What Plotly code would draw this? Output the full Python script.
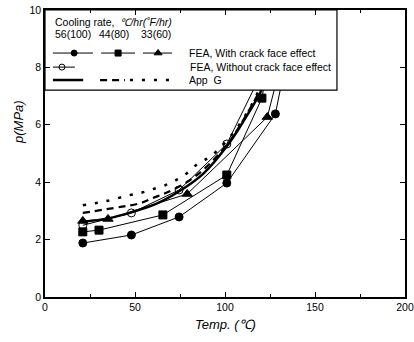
import plotly.graph_objects as go

# ---- data ----
# FEA, with crack face effect
fea56_x = [21, 48, 74.5, 101, 128, 138]
fea56_y = [1.88, 2.16, 2.79, 3.97, 6.38, 9.5]
fea44_x = [21, 30, 65.5, 101, 120.5, 128]
fea44_y = [2.27, 2.33, 2.86, 4.25, 6.93, 9.5]
fea33_x = [21, 35, 79, 123.5, 133]
fea33_y = [2.65, 2.72, 3.59, 6.27, 8.6]
# FEA, without crack face effect (56)
fea56n_x = [21, 48, 74.5, 101, 125]
fea56n_y = [2.5, 2.93, 3.73, 5.33, 8.4]
# App G
appg56_x = [21, 35, 48, 62, 75, 88, 101, 110, 121, 128]
appg56_y = [2.62, 2.74, 2.95, 3.25, 3.7, 4.3, 5.25, 6.1, 7.3, 8.6]
appg44_x = [21, 42, 53, 60, 68, 80, 90, 101, 110, 120, 127]
appg44_y = [2.93, 3.14, 3.27, 3.45, 3.65, 4.05, 4.55, 5.3, 6.15, 7.3, 8.6]
appg33_x = [21, 34, 47, 54, 60, 67, 73, 79, 85, 92, 101, 110, 118, 125]
appg33_y = [3.2, 3.34, 3.55, 3.64, 3.76, 3.9, 4.08, 4.32, 4.65, 4.9, 5.45, 6.2, 7.1, 8.4]

x_ticks = [0, 50, 100, 150, 200]
y_ticks = [0, 2, 4, 6, 8, 10]
rates = ["56(100)", "44(80)", "33(60)"]

FONT = "Liberation Sans, Arial, Helvetica, sans-serif"
BLACK = "black"

fig = go.Figure()

def fea(x, y, symbol, size, fill=BLACK):
    fig.add_trace(go.Scatter(
        x=x, y=y, mode="lines+markers",
        line=dict(color=BLACK, width=1),
        marker=dict(symbol=symbol, size=size, color=fill,
                    line=dict(color=BLACK, width=1)),
        showlegend=False, hoverinfo="skip"))

fea(fea56_x, fea56_y, "circle", 8)
fea(fea44_x, fea44_y, "square", 8)
fea(fea33_x, fea33_y, "triangle-up", 9)
fea(fea56n_x, fea56n_y, "circle-open", 8)

def appg(x, y, dash, width):
    fig.add_trace(go.Scatter(
        x=x, y=y, mode="lines", line=dict(color=BLACK, width=width, dash=dash, shape="spline"),
        showlegend=False, hoverinfo="skip"))

appg(appg56_x, appg56_y, "solid", 2.5)
appg(appg44_x, appg44_y, "7px,5px", 2.2)
appg(appg33_x, appg33_y, "3px,9px", 2.5)

# ---- custom legend box on an overlay (fractional) axis ----
bx0, bx1, by0, by1 = 0.0, 0.811, 0.721, 1.0
fig.add_trace(go.Scatter(
    x=[bx0, bx1, bx1, bx0, bx0], y=[by0, by0, by1, by1, by0],
    mode="lines", fill="toself", fillcolor="white",
    line=dict(color=BLACK, width=1.2),
    xaxis="x2", yaxis="y2", showlegend=False, hoverinfo="skip"))

def sample(x0, x1, xm, y, symbol=None, size=6, dash="solid", width=1):
    fig.add_trace(go.Scatter(
        x=[x0, x1], y=[y, y], mode="lines",
        line=dict(color=BLACK, width=width, dash=dash),
        xaxis="x2", yaxis="y2", showlegend=False, hoverinfo="skip"))
    if symbol:
        fig.add_trace(go.Scatter(
            x=[xm], y=[y], mode="markers",
            marker=dict(symbol=symbol, size=size, color=BLACK,
                        line=dict(color=BLACK, width=1)),
            xaxis="x2", yaxis="y2", showlegend=False, hoverinfo="skip"))

r1, r2, r3 = 0.850, 0.801, 0.756
sample(0.022, 0.133, 0.081, r1, "circle", 6)
sample(0.156, 0.250, 0.203, r1, "square", 6)
sample(0.272, 0.353, 0.314, r1, "triangle-up", 7)
sample(0.022, 0.083, 0.047, r2, "circle-open", 6)
sample(0.022, 0.106, None, r3, None, width=2.5)
sample(0.153, 0.222, None, r3, None, dash="7px,5px", width=2.2)
sample(0.236, 0.347, None, r3, None, dash="3px,9px", width=2.5)

ann = []
def txt(x, y, s, size=10.5, **kw):
    d = dict(x=x, y=y, xref="paper", yref="paper", text=s, showarrow=False,
             xanchor="left", yanchor="middle", font=dict(family=FONT, size=size, color=BLACK))
    d.update(kw)
    ann.append(d)

txt(0.022, 0.958, "Cooling rate,  <i>℃/hr(˚F/hr)</i>")
for xs, s in zip([0.022, 0.144, 0.261], rates):
    txt(xs, 0.916, s)
txt(0.394, r1, "FEA, With crack face effect")
txt(0.397, r2, "FEA, Without crack face effect")
txt(0.394, r3, "App  G")
# axis titles
txt(-0.072, 0.61, "<i>p(MPa)</i>", size=13, xanchor="center", textangle=-90)
ann.append(dict(x=0.5, y=-0.095, xref="paper", yref="paper", text="<i>Temp. (℃)</i>",
                showarrow=False, xanchor="center", yanchor="middle",
                font=dict(family=FONT, size=13, color=BLACK)))

fig.update_layout(
    width=414, height=342,
    margin=dict(l=45, r=9, t=10, b=45, autoexpand=False),
    paper_bgcolor="white", plot_bgcolor="white",
    font=dict(family=FONT, size=10, color=BLACK),
    annotations=ann,
    xaxis=dict(range=[0, 200], tickvals=x_ticks, ticks="inside", ticklen=5, tickwidth=1,
               tickcolor=BLACK, showline=True, linecolor=BLACK, linewidth=1.5, mirror="ticks",
               showgrid=False, zeroline=False, automargin=False,
               minor=dict(ticks="inside", ticklen=3, dtick=25, tick0=0, tickcolor=BLACK, showgrid=False),
               tickfont=dict(family=FONT, size=10.5)),
    yaxis=dict(range=[0, 10], tickvals=y_ticks, ticks="inside", ticklen=5, tickwidth=1,
               tickcolor=BLACK, showline=True, linecolor=BLACK, linewidth=1.5, mirror="ticks",
               showgrid=False, zeroline=False, automargin=False,
               tickfont=dict(family=FONT, size=10.5)),
    xaxis2=dict(overlaying="x", range=[0, 1], visible=False, fixedrange=True),
    yaxis2=dict(overlaying="y", range=[0, 1], visible=False, fixedrange=True),
)

fig.write_html("out.html")
